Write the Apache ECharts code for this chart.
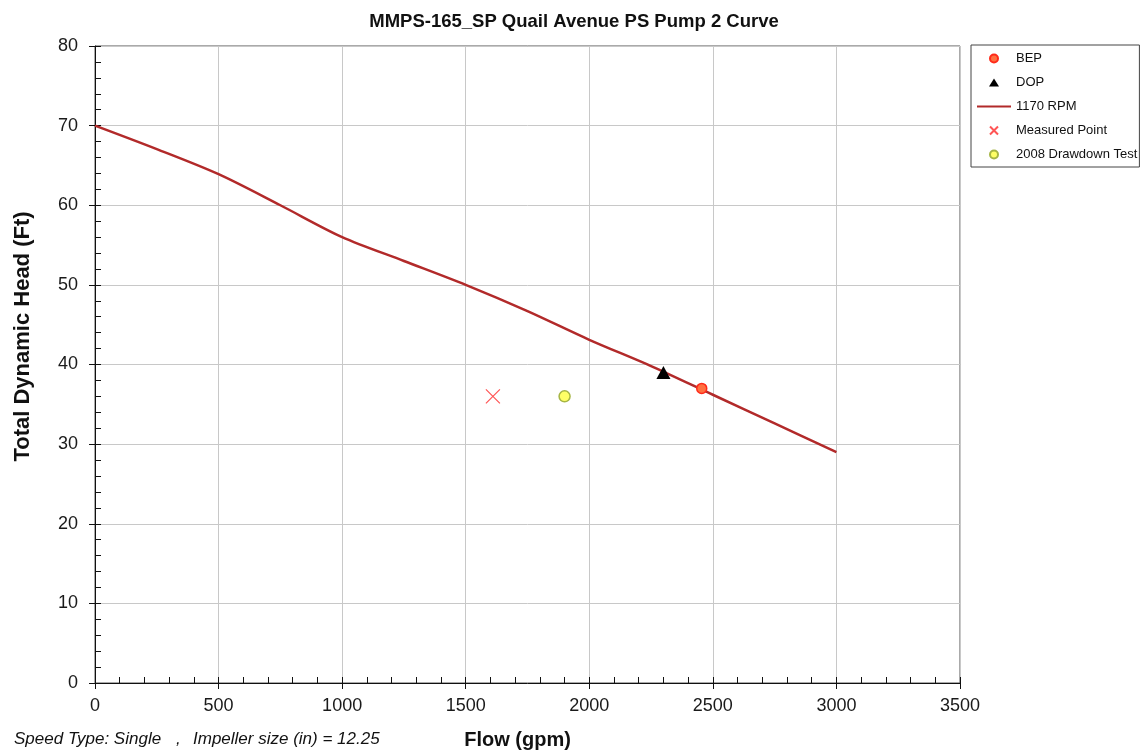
<!DOCTYPE html>
<html>
<head>
<meta charset="utf-8">
<title>Pump Curve</title>
<script src="https://cdn.jsdelivr.net/npm/echarts@6/dist/echarts.min.js"></script>
<style>
  html, body { margin: 0; padding: 0; background: #fff; }
  #main { width: 1148px; height: 755px; }
</style>
</head>
<body>
<div id="main"></div>
<script>
// pump curve 1170 RPM
var curveFlow = [0, 250, 500, 750, 1000, 1250, 1500, 1750, 2000, 2250, 2500, 2750, 3000];
var curveHead = [70, 67.05, 63.9, 60, 56, 53, 50, 46.7, 43.1, 39.8, 36.2, 32.6, 29];
// single points
var bepPoint = [2455, 37];
var dopPoint = [2300, 39];
var measuredPoint = [1610, 36];
var drawdownPoint = [1900, 36];
var xTicks = [0, 500, 1000, 1500, 2000, 2500, 3000, 3500];
var yTicks = [0, 10, 20, 30, 40, 50, 60, 70, 80];

var curveData = [];
for (var i = 0; i < curveFlow.length; i++) {
    curveData.push([curveFlow[i], curveHead[i]]);
}

var fontName = 'Liberation Sans, Arial';
var labelFont = { fontFamily: fontName, fontSize: 18, color: '#1a1a1a' };
var xMin = xTicks[0], xMax = xTicks[xTicks.length - 1];
var yMin = yTicks[0], yMax = yTicks[yTicks.length - 1];
var plainNum = function (v) { return String(v); };

// legend icons (the extra M points keep the box 34x8 so shapes aren't stretched)
var triIcon = 'path://M0,0M34,8M12,8L17,0L22,8Z';
var lineIcon = 'path://M0,0M34,8M0,2.9L34,2.9L34,5.1L0,5.1Z';
var crossIcon = 'path://M0,0L10,10M10,0L0,10';

var option = {
    backgroundColor: '#fff',
    animation: false,
    title: {
        text: 'MMPS-165_SP Quail Avenue PS Pump 2 Curve',
        left: 'center',
        top: 7,
        padding: [5, 22, 5, 5],
        textStyle: { fontFamily: fontName, fontSize: 18.5, fontWeight: 'bold', color: '#111' }
    },
    grid: {
        left: 95, right: 188, top: 46, bottom: 72,
        show: true, borderColor: '#555', borderWidth: 1, backgroundColor: '#fff'
    },
    legend: {
        orient: 'vertical',
        left: 971,
        top: 45,
        padding: [7, 2, 6, 6],
        itemWidth: 34,
        itemHeight: 8,
        itemGap: 11,
        borderColor: '#444',
        borderWidth: 1,
        textStyle: { fontFamily: fontName, fontSize: 13, color: '#111' },
        data: [
            { name: 'BEP', icon: 'circle' },
            { name: 'DOP', icon: triIcon },
            { name: '1170 RPM', icon: lineIcon },
            { name: 'Measured Point', icon: crossIcon },
            { name: '2008 Drawdown Test', icon: 'circle' }
        ]
    },
    xAxis: [
        {
            type: 'value', min: xMin, max: xMax, interval: 500, position: 'bottom',
            name: 'Flow (gpm)', nameLocation: 'middle', nameGap: 47,
            nameTextStyle: { fontFamily: fontName, fontSize: 20, fontWeight: 'bold', color: '#111', padding: [0, 20, 0, 0] },
            axisLine: { lineStyle: { color: '#111', width: 1 } },
            axisTick: { show: true, inside: false, length: 6, lineStyle: { color: '#111' } },
            axisLabel: Object.assign({ margin: 14, formatter: plainNum }, labelFont),
            splitLine: { show: true, lineStyle: { color: '#c8c8c8', width: 1 } }
        },
        {
            type: 'value', min: xMin, max: xMax, interval: 500, position: 'bottom',
            axisLine: { show: false },
            axisTick: { show: true, inside: true, length: 6, lineStyle: { color: '#111' } },
            minorTick: { show: true, splitNumber: 5, length: 6, lineStyle: { color: '#111' } },
            axisLabel: { show: false },
            splitLine: { show: false }
        }
    ],
    yAxis: [
        {
            type: 'value', min: yMin, max: yMax, interval: 10, position: 'left',
            name: 'Total Dynamic Head (Ft)', nameLocation: 'middle', nameGap: 61,
            nameTextStyle: { fontFamily: fontName, fontSize: 22, fontWeight: 'bold', color: '#111', padding: [0, 0, 0, 56] },
            axisLine: { lineStyle: { color: '#111', width: 1 } },
            axisTick: { show: true, inside: false, length: 6, lineStyle: { color: '#111' } },
            axisLabel: Object.assign({ margin: 17 }, labelFont),
            splitLine: { show: true, lineStyle: { color: '#c8c8c8', width: 1 } }
        },
        {
            type: 'value', min: yMin, max: yMax, interval: 10, position: 'left',
            axisLine: { show: false },
            axisTick: { show: true, inside: true, length: 6, lineStyle: { color: '#111' } },
            minorTick: { show: true, splitNumber: 5, length: 6, lineStyle: { color: '#111' } },
            axisLabel: { show: false },
            splitLine: { show: false }
        }
    ],
    series: [
        {
            name: '1170 RPM',
            type: 'line',
            smooth: 0.3,
            symbol: 'none',
            data: curveData,
            lineStyle: { color: '#b22a2a', width: 2.5 },
            itemStyle: { color: '#b22a2a' },
            z: 3
        },
        {
            name: 'BEP',
            type: 'scatter',
            symbol: 'circle',
            symbolSize: 10,
            data: [bepPoint],
            itemStyle: { color: '#ff7040', borderColor: '#ff2a1a', borderWidth: 1.5, opacity: 1 },
            z: 5
        },
        {
            name: 'DOP',
            type: 'scatter',
            symbol: 'triangle',
            symbolSize: [14, 13],
            data: [dopPoint],
            itemStyle: { color: '#000', opacity: 1 },
            z: 5
        },
        {
            name: 'Measured Point',
            type: 'scatter',
            symbol: crossIcon,
            symbolSize: 14,
            data: [measuredPoint],
            itemStyle: { color: 'transparent', borderColor: '#ff5555', borderWidth: 1.2, opacity: 1 },
            z: 5
        },
        {
            name: '2008 Drawdown Test',
            type: 'scatter',
            symbol: 'circle',
            symbolSize: 11,
            data: [drawdownPoint],
            itemStyle: { color: '#ffff66', borderColor: '#a6b545', borderWidth: 1.5, opacity: 1 },
            z: 5
        }
    ],
    graphic: [
        {
            type: 'text', left: 14, top: 731,
            style: { text: 'Speed Type: Single', fontFamily: fontName, fontStyle: 'italic', fontSize: 17, fill: '#111' }
        },
        {
            type: 'text', left: 176, top: 731,
            style: { text: ',', fontFamily: fontName, fontStyle: 'italic', fontSize: 17, fill: '#111' }
        },
        {
            type: 'text', left: 193, top: 731,
            style: { text: 'Impeller size (in) = 12.25', fontFamily: fontName, fontStyle: 'italic', fontSize: 17, fill: '#111' }
        }
    ]
};

var main = document.getElementById('main');
echarts.init(main).setOption(option);
</script>
</body>
</html>
